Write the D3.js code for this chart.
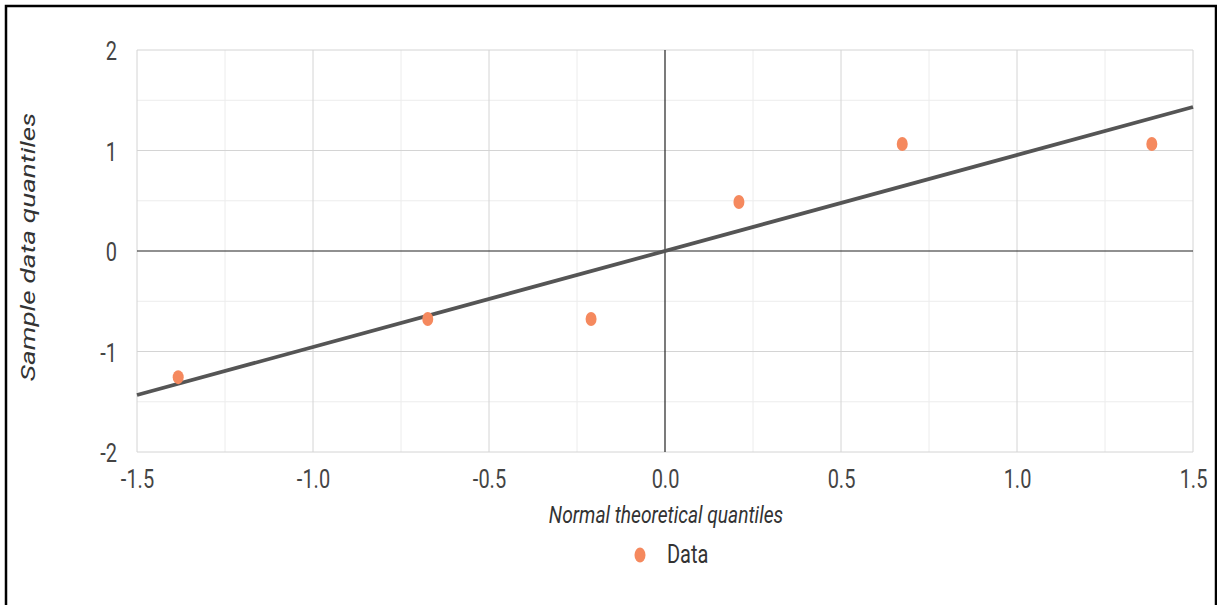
<!DOCTYPE html>
<html><head><meta charset="utf-8">
<script src="https://cdn.jsdelivr.net/npm/d3@7"></script>
<style>
html,body{margin:0;padding:0;background:#fff;}
svg{display:block;}
text{font-family:Roboto,"Liberation Sans",sans-serif;}
</style></head>
<body>
<script>
const theoretical = [-1.383, -0.674, -0.210, 0.210, 0.674, 1.383];
const sample = [-1.255, -0.677, -0.677, 0.488, 1.065, 1.065];
const fitLine = [[-1.5, -1.433], [1.5, 1.433]];
const xTicks = [-1.5, -1.0, -0.5, 0.0, 0.5, 1.0, 1.5];
const xMinor = [-1.25, -0.75, -0.25, 0.25, 0.75, 1.25];
const yTicks = [-2, -1, 0, 1, 2];
const yMinor = [-1.5, -0.5, 0.5, 1.5];
const seriesName = "Data";
const xTitle = "Normal theoretical quantiles";
const yTitle = "Sample data quantiles";

const W = 1217, H = 605;
const SX = 0.8; // horizontal squeeze of the reference's text
const svg = d3.select("body").append("svg").attr("width", W).attr("height", H);

// frame
svg.append("path").attr("d", `M6,${H} L6,6 L1216,6 L1216,${H}`)
  .attr("fill","none").attr("stroke","#000").attr("stroke-width",2.5);

const x = d3.scaleLinear().domain([-1.5, 1.5]).range([137, 1193]);
const y = d3.scaleLinear().domain([-2, 2]).range([452, 50]);

const g = svg.append("g");
g.selectAll(".xm").data(xMinor).join("line")
  .attr("x1", d=>x(d)).attr("x2", d=>x(d)).attr("y1", y(2)).attr("y2", y(-2))
  .attr("stroke","#ececec").attr("stroke-width",1);
g.selectAll(".ym").data(yMinor).join("line")
  .attr("y1", d=>y(d)).attr("y2", d=>y(d)).attr("x1", x(-1.5)).attr("x2", x(1.5))
  .attr("stroke","#ececec").attr("stroke-width",1);
g.selectAll(".xg").data(xTicks.filter(d=>d!==0)).join("line")
  .attr("x1", d=>x(d)).attr("x2", d=>x(d)).attr("y1", y(2)).attr("y2", y(-2))
  .attr("stroke","#d4d4d4").attr("stroke-width",1);
g.selectAll(".yg").data(yTicks.filter(d=>d!==0)).join("line")
  .attr("y1", d=>y(d)).attr("y2", d=>y(d)).attr("x1", x(-1.5)).attr("x2", x(1.5))
  .attr("stroke","#d4d4d4").attr("stroke-width",1);
g.append("line").attr("x1", x(0)).attr("x2", x(0)).attr("y1", y(2)).attr("y2", y(-2))
  .attr("stroke","#222").attr("stroke-width",1.2);
g.append("line").attr("y1", y(0)).attr("y2", y(0)).attr("x1", x(-1.5)).attr("x2", x(1.5))
  .attr("stroke","#222").attr("stroke-width",1.2);

const hy = s => s.replace("\u2212", "-");
const xAxis = svg.append("g").attr("transform", `translate(0,${y(-2)})`)
  .call(d3.axisBottom(x).tickValues(xTicks).tickFormat(d => hy(d3.format(".1f")(d))).tickSize(0).tickPadding(18));
xAxis.select(".domain").remove();
xAxis.selectAll("text").attr("font-size",25).attr("fill","#444")
  .attr("transform", `scale(${SX},1)`);
const yAxis = svg.append("g").attr("transform", `translate(${x(-1.5)},0)`)
  .call(d3.axisLeft(y).tickValues(yTicks).tickFormat(d => hy(d3.format("d")(d))).tickSize(0).tickPadding(20));
yAxis.select(".domain").remove();
yAxis.selectAll("text").attr("font-size",25).attr("fill","#444")
  .attr("x", null).attr("dy","0.39em")
  .attr("transform", `translate(-20,0) scale(${SX},1)`);

svg.append("path").datum(fitLine)
  .attr("d", d3.line().x(d=>x(d[0])).y(d=>y(d[1])))
  .attr("stroke","#555").attr("stroke-width",3.8).attr("fill","none");

svg.selectAll(".pt").data(theoretical.map((t,i)=>[t, sample[i]])).join("ellipse")
  .attr("cx", d=>x(d[0])).attr("cy", d=>y(d[1])).attr("rx",5.5).attr("ry",7)
  .attr("fill","#f5895e");

svg.append("text").attr("transform", `translate(666,523) scale(${SX},1)`).attr("text-anchor","middle")
  .attr("font-size",24).attr("font-style","italic").attr("fill","#333").text(xTitle);
svg.append("text").attr("transform","translate(35,247) rotate(-90) scale(1.33,1)").attr("text-anchor","middle")
  .attr("font-size",21).attr("font-style","italic").attr("fill","#333").text(yTitle);

svg.append("ellipse").attr("cx", 640).attr("cy", 555).attr("rx",5.5).attr("ry",7.5).attr("fill","#f5895e");
svg.append("text").attr("transform", `translate(667,563) scale(${SX},1)`)
  .attr("font-size",25).attr("fill","#333").text(seriesName);
</script>
</body></html>
